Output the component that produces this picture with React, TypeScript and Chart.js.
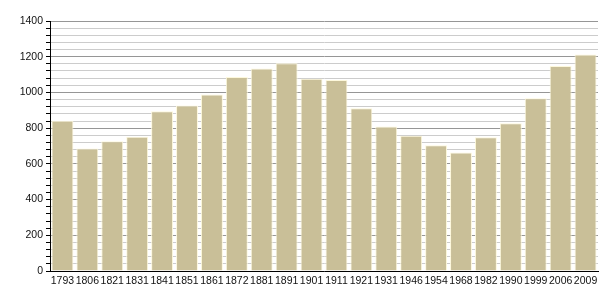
import React, { useEffect, useRef } from "react";
import { Chart, registerables } from "chart.js";

Chart.register(...registerables);

const years = ["1793","1806","1821","1831","1841","1851","1861","1872","1881","1891","1901","1911","1921","1931","1946","1954","1968","1982","1990","1999","2006","2009"];
const population = [842,686,726,752,895,927,988,1086,1134,1164,1076,1069,911,809,758,704,664,749,827,968,1148,1212];
const yMax = 1400;
const yStep = 40;
const yLabelStep = 200;

export default function App() {
  const ref = useRef<HTMLCanvasElement | null>(null);
  useEffect(() => {
    if (!ref.current) return;
    const chart = new Chart(ref.current, {
      type: "bar",
      data: {
        labels: years,
        datasets: [{
          data: population,
          backgroundColor: "#c9bf98",
          borderColor: "#fdf8dc",
          borderWidth: 1,
          borderSkipped: "bottom",
          categoryPercentage: 1,
          barPercentage: 0.88,
        }],
      },
      options: {
        animation: false,
        responsive: false,
        maintainAspectRatio: false,
        layout: { padding: { top: 21, right: 7, left: 0, bottom: 0 } },
        plugins: { legend: { display: false }, tooltip: { enabled: false } },
        scales: {
          x: {
            grid: { display: false, drawTicks: false },
            border: { display: true, color: "#000", width: 1 },
            ticks: {
              autoSkip: false, maxRotation: 0, minRotation: 0,
              padding: 4, color: "#111",
              font: { family: "'Liberation Sans', Arial, sans-serif", size: 10.5 },
            },
            afterFit: (s: any) => { s.height = 29; },
          },
          y: {
            min: 0, max: yMax,
            grid: {
              color: (ctx: any) => (ctx.tick && ctx.tick.value % yLabelStep === 0 ? "#969696" : "#cccccc"),
              lineWidth: 1,
              tickLength: 4,
              tickColor: "#000",
            },
            border: { display: true, color: "#000", width: 1 },
            ticks: {
              stepSize: yStep,
              autoSkip: false,
              padding: 3,
              color: "#111",
              font: { family: "'Liberation Sans', Arial, sans-serif", size: 10.5 },
              callback: (v: any) => (Number(v) % yLabelStep === 0 ? String(v) : ""),
            },
            afterFit: (s: any) => { s.width = 50; },
          },
        },
      },
    });
    return () => chart.destroy();
  }, []);
  return (
    <div style={{ position: "fixed", left: 0, top: 0, width: 605, height: 300, background: "#fff" }}>
      <canvas ref={ref} width={605} height={300} style={{ width: 605, height: 300 }} />
    </div>
  );
}
